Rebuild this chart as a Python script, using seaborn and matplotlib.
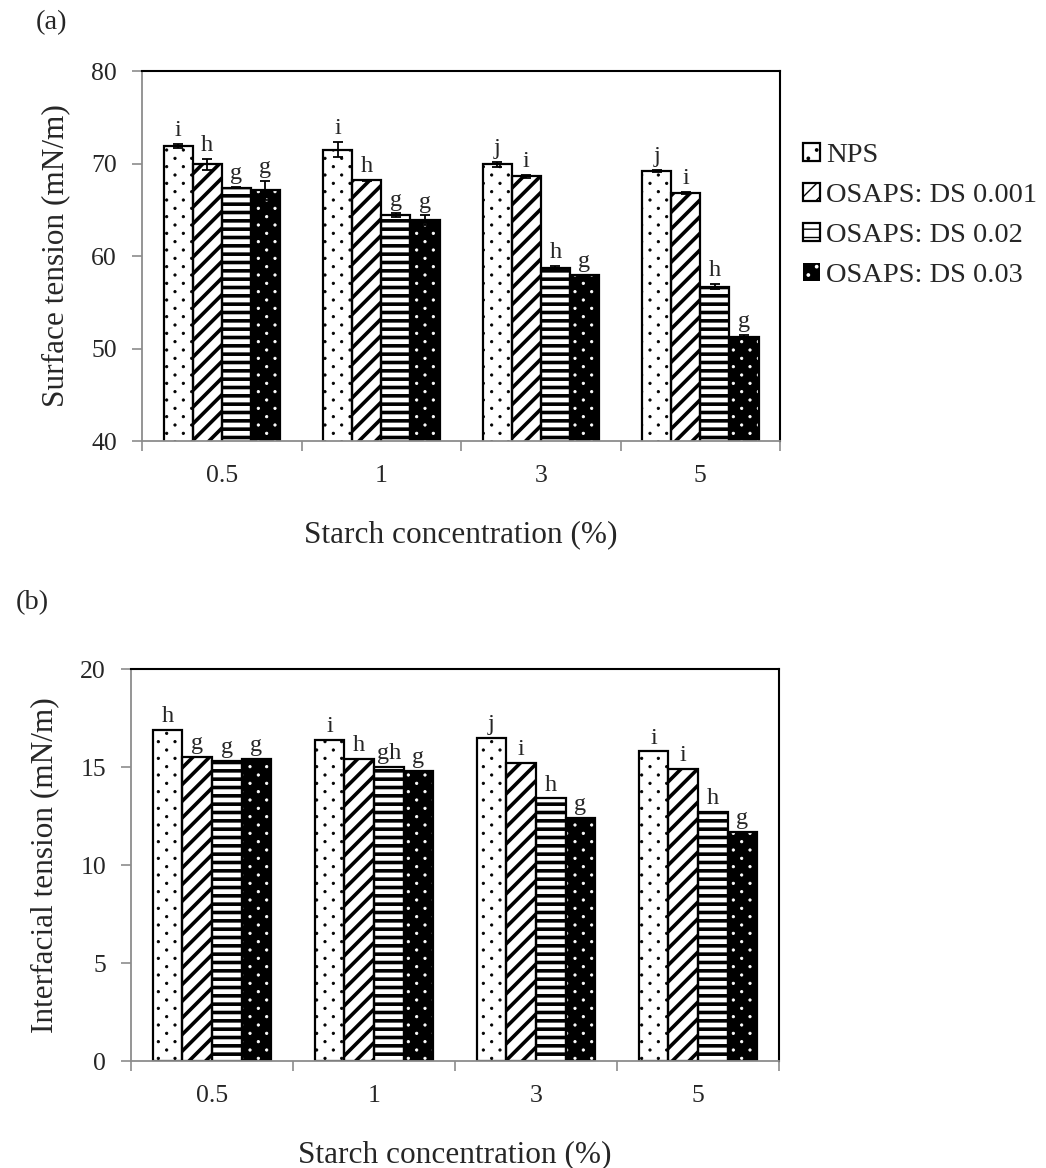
import matplotlib
matplotlib.use("Agg")
import matplotlib.pyplot as plt
import matplotlib.hatch as mhatch
import numpy as np
import pandas as pd
import seaborn as sns
from matplotlib.patches import Rectangle
from matplotlib.path import Path
from matplotlib.ticker import FixedLocator

# ---- data -------------------------------------------------------------
concentrations = ["0.5", "1", "3", "5"]
series = ["NPS", "OSAPS: DS 0.001", "OSAPS: DS 0.02", "OSAPS: DS 0.03"]

# (a) surface tension, mN/m
surface_nps = [71.9, 71.5, 69.9, 69.2]
surface_ds0001 = [69.9, 68.2, 68.6, 66.8]
surface_ds002 = [67.4, 64.4, 58.7, 56.7]
surface_ds003 = [67.1, 63.9, 57.9, 51.3]
surface_err_nps = [0.2, 0.8, 0.3, 0.15]
surface_err_ds0001 = [0.6, 0.05, 0.2, 0.1]
surface_err_ds002 = [0.05, 0.2, 0.2, 0.3]
surface_err_ds003 = [1.0, 0.5, 0.1, 0.2]
surface_letters = [["i", "i", "j", "j"],
                   ["h", "h", "i", "i"],
                   ["g", "g", "h", "h"],
                   ["g", "g", "g", "g"]]

# (b) interfacial tension, mN/m
interfacial_nps = [16.9, 16.4, 16.5, 15.8]
interfacial_ds0001 = [15.5, 15.4, 15.2, 14.9]
interfacial_ds002 = [15.3, 15.0, 13.4, 12.7]
interfacial_ds003 = [15.4, 14.8, 12.4, 11.7]
interfacial_letters = [["h", "i", "j", "i"],
                       ["g", "h", "i", "i"],
                       ["g", "gh", "h", "h"],
                       ["g", "g", "g", "g"]]

surface_values = [surface_nps, surface_ds0001, surface_ds002, surface_ds003]
surface_errors = [surface_err_nps, surface_err_ds0001, surface_err_ds002, surface_err_ds003]
interfacial_values = [interfacial_nps, interfacial_ds0001, interfacial_ds002, interfacial_ds003]


# ---- staggered dot texture for the '.' hatch ---------------------------
class StaggeredDots(mhatch.HatchPatternBase):
    """Small filled dots; rows twice as dense as columns, every other row
    shifted by half a column."""
    size = 0.07

    def __init__(self, hatch, density):
        self.cols = int(hatch.count(".") * density)
        self.rows = 2 * self.cols
        circle = Path.unit_circle()
        self.shape_vertices = circle.vertices
        self.shape_codes = circle.codes
        if self.cols:
            n_shapes = ((self.rows // 2 + 1) * (self.cols + 1)
                        + (self.rows // 2) * self.cols)
            self.num_vertices = n_shapes * len(self.shape_vertices)
        else:
            self.num_vertices = 0

    def set_vertices_and_codes(self, vertices, codes):
        step = 1.0 / self.cols
        shape = self.shape_vertices * step * self.size
        n = len(shape)
        cursor = 0
        for row in range(self.rows + 1):
            if row % 2 == 0:
                xs = np.linspace(0, 1, self.cols + 1)
            else:
                xs = np.linspace(step / 2, 1 - step / 2, self.cols)
            y = row / self.rows
            for x in xs:
                vertices[cursor:cursor + n] = shape + [x, y]
                codes[cursor:cursor + n] = self.shape_codes
                cursor += n


mhatch._hatch_types[:] = [StaggeredDots if t is mhatch.SmallFilledCircles else t
                          for t in mhatch._hatch_types]


def long_table(values):
    rows = []
    for name, vals in zip(series, values):
        for conc, v in zip(concentrations, vals):
            rows.append({"conc": conc, "series": name, "value": v})
    return pd.DataFrame(rows)


# fill, hatch pattern, hatch colour, hatch line width for each series
styles = [
    dict(face="white", hatch=".", hcolor="black", hlw=0.6),
    dict(face="white", hatch="//", hcolor="black", hlw=2.6),
    dict(face="white", hatch="--", hcolor="black", hlw=2.6),
    dict(face="black", hatch=".", hcolor="white", hlw=0.6),
]

sns.set_theme(style="white")
plt.rcParams["font.family"] = ["Liberation Serif", "DejaVu Serif"]
plt.rcParams["hatch.linewidth"] = 1.0

fig = plt.figure(figsize=(10.46, 11.68), dpi=100)
ax_a = fig.add_axes([0.1358, 0.6224, 0.6100, 0.3168])
ax_b = fig.add_axes([0.1252, 0.0916, 0.6195, 0.3356])

AXIS_GRAY = "#8c8c8c"


def style_bars(ax):
    for cont, st in zip(ax.containers, styles):
        for p in cont.patches:
            p.set_facecolor(st["face"])
            p.set_hatch(st["hatch"])
            p.set_edgecolor(st["hcolor"])
            if hasattr(p, "set_hatch_linewidth"):
                p.set_hatch_linewidth(st["hlw"])
            else:
                p._hatch_linewidth = st["hlw"]
            p.set_linewidth(0)
            # black outline drawn over each hatched bar
            x, y = p.get_xy()
            ax.add_patch(Rectangle((x, y), p.get_width(), p.get_height(),
                                   fill=False, edgecolor="black",
                                   linewidth=1.6, zorder=p.get_zorder() + 0.1))


def style_axes(ax, ylim, yticks, ylabel, ylabelpad):
    ax.set_xlim(-0.5, len(concentrations) - 0.5)
    ax.set_ylim(*ylim)
    ax.set_yticks(yticks)
    ax.set_yticklabels([str(t) for t in yticks], fontsize=18.5)
    ax.set_xticks(range(len(concentrations)))
    ax.set_xticklabels(concentrations, fontsize=18.5)
    ax.xaxis.set_minor_locator(FixedLocator(np.arange(-0.5, len(concentrations), 1.0)))
    ax.tick_params(axis="x", which="major", length=0, pad=17)
    ax.tick_params(axis="x", which="minor", length=7, width=1.2, color=AXIS_GRAY,
                   direction="out", bottom=True)
    ax.tick_params(axis="y", which="major", length=7, width=1.2, color=AXIS_GRAY,
                   direction="out", left=True, pad=11)
    for side in ("left", "bottom"):
        ax.spines[side].set_color(AXIS_GRAY)
        ax.spines[side].set_linewidth(1.3)
    for side in ("top", "right"):
        ax.spines[side].set_color("black")
        ax.spines[side].set_linewidth(1.5)
        ax.spines[side].set_visible(True)
    ax.set_xlabel("Starch concentration (%)", fontsize=22.5, labelpad=24)
    ax.set_ylabel(ylabel, fontsize=22.5, labelpad=ylabelpad)
    ax.grid(False)


def add_letters(ax, letters, errors=None):
    for i, cont in enumerate(ax.containers[:len(series)]):
        for j, p in enumerate(cont.patches):
            top = p.get_y() + p.get_height()
            if errors is not None:
                top += errors[i][j]
            ax.annotate(letters[i][j], (p.get_x() + p.get_width() / 2, top),
                        xytext=(0, 2), textcoords="offset points",
                        ha="center", va="bottom", fontsize=17.5)


# ---- (a) surface tension ---------------------------------------------
df_a = long_table(surface_values)
sns.barplot(data=df_a, x="conc", y="value", hue="series", order=concentrations,
            hue_order=series, width=0.73, gap=0, errorbar=None, ax=ax_a,
            legend=False)
style_bars(ax_a)
for cont, err in zip(ax_a.containers[:len(series)], surface_errors):
    xs = [p.get_x() + p.get_width() / 2 for p in cont.patches]
    ys = [p.get_y() + p.get_height() for p in cont.patches]
    ax_a.errorbar(xs, ys, yerr=err, fmt="none", ecolor="black", elinewidth=1.3,
                  capsize=3.8, capthick=1.3, zorder=5)
style_axes(ax_a, (40, 80), [40, 50, 60, 70, 80], "Surface tension (mN/m)", 15)
add_letters(ax_a, surface_letters, surface_errors)

handles = [cont.patches[0] for cont in ax_a.containers[:len(series)]]
leg = fig.legend(handles, series, loc="upper left",
                 bbox_to_anchor=(0.757, 0.887), frameon=False, fontsize=20.5,
                 handlelength=0.6, handleheight=0.6, handletextpad=0.2,
                 labelspacing=0.52, borderaxespad=0)
for lh, st in zip(leg.legend_handles, styles):
    # keep a dark frame round the light keys; the dark key stays solid
    lh.set_linewidth(1.6 if st["hcolor"] == "black" else 0)

# ---- (b) interfacial tension -----------------------------------------
df_b = long_table(interfacial_values)
sns.barplot(data=df_b, x="conc", y="value", hue="series", order=concentrations,
            hue_order=series, width=0.73, gap=0, errorbar=None, ax=ax_b,
            legend=False)
style_bars(ax_b)
style_axes(ax_b, (0, 20), [0, 5, 10, 15, 20], "Interfacial tension (mN/m)", 15)
add_letters(ax_b, interfacial_letters)

fig.text(0.034, 0.981, "(a)", fontsize=20.5, ha="left", va="center")
fig.text(0.015, 0.484, "(b)", fontsize=20.5, ha="left", va="center")

fig.savefig("out.png", dpi=100)
